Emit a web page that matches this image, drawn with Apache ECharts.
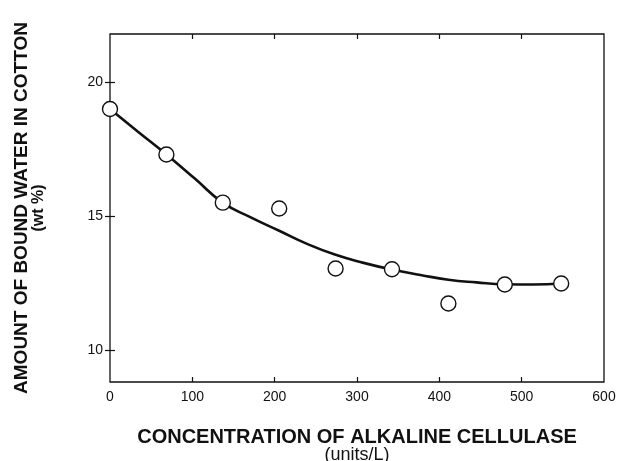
<!DOCTYPE html>
<html>
<head>
<meta charset="UTF-8" />
<title>Bound water vs alkaline cellulase</title>
<script src="https://cdn.jsdelivr.net/npm/echarts@6/dist/echarts.min.js"></script>
<style>
  body { margin: 0; background: #fff; }
  #chart { width: 618px; height: 461px; }
</style>
</head>
<body>
<div id="chart"></div>
<script>
// measured points (concentration units/L, bound water wt %)
const concentration = [0, 68.5, 137, 205.5, 274, 342.5, 411, 479.5, 548];
const boundWater = [19.0, 17.3, 15.5, 15.28, 13.04, 13.01, 11.73, 12.44, 12.48];

// fitted curve
const curveX = [0, 34, 68.5, 103, 137, 171, 205.5, 240, 274, 308, 342.5, 377, 411, 445, 479.5, 514, 548];
const curveY = [19.0, 18.15, 17.3, 16.4, 15.5, 14.95, 14.45, 13.95, 13.55, 13.25, 13.0, 12.8, 12.62, 12.52, 12.45, 12.44, 12.48];

const xTicks = [100, 200, 300, 400, 500];
const yTicks = [10, 15, 20];

const font = '"Liberation Sans", Arial, sans-serif';
const ink = '#111';

const chart = echarts.init(document.getElementById('chart'));

const tickStyle = { show: true, inside: true, length: 5, lineStyle: { color: ink, width: 1.2 } };

chart.setOption({
    animation: false,
    grid: {
        left: 110, top: 34, right: 14, bottom: 79,
        outerBoundsMode: 'none',
        containLabel: false,
        show: true, borderColor: ink, borderWidth: 1.3
    },
    xAxis: [{
        type: 'value', min: 0, max: 600, interval: 100,
        name: '{a|CONCENTRATION OF ALKALINE CELLULASE}\n{b|(units/L)}',
        nameLocation: 'middle', nameGap: 45,
        nameTextStyle: {
            color: ink,
            rich: {
                a: { fontFamily: font, fontSize: 20, fontWeight: 'bold', color: ink, lineHeight: 20 },
                b: { fontFamily: font, fontSize: 18, color: ink, lineHeight: 17 }
            }
        },
        axisLine: { show: false },
        axisTick: Object.assign({ customValues: xTicks }, tickStyle),
        axisLabel: { fontFamily: font, fontSize: 14, color: ink, margin: 8 },
        splitLine: { show: false }
    }, {
        type: 'value', position: 'top', min: 0, max: 600, interval: 100,
        axisLine: { show: false },
        axisTick: Object.assign({ customValues: xTicks }, tickStyle),
        axisLabel: { show: false },
        splitLine: { show: false }
    }],
    yAxis: [{
        type: 'value', min: 8.8, max: 21.8,
        name: '{a|AMOUNT OF BOUND WATER IN COTTON}\n{b|(wt %)}',
        nameLocation: 'middle', nameRotate: 90, nameGap: 63,
        nameTextStyle: {
            color: ink,
            rich: {
                a: { fontFamily: font, fontSize: 19, fontWeight: 'bold', color: ink, lineHeight: 17 },
                b: { fontFamily: font, fontSize: 16, fontWeight: 'bold', color: ink, lineHeight: 17 }
            }
        },
        axisLine: { show: false },
        axisTick: Object.assign({ customValues: yTicks }, tickStyle),
        axisLabel: { customValues: yTicks, fontFamily: font, fontSize: 14, color: ink, margin: 7 },
        splitLine: { show: false }
    }, {
        type: 'value', position: 'right', min: 8.8, max: 21.8,
        axisLine: { show: false },
        axisTick: Object.assign({ customValues: yTicks }, tickStyle),
        axisLabel: { show: false },
        splitLine: { show: false }
    }],
    series: [{
        type: 'line',
        data: curveX.map((x, i) => [x, curveY[i]]),
        smooth: 0.5,
        showSymbol: false,
        lineStyle: { color: ink, width: 2.6 },
        silent: true
    }, {
        type: 'scatter',
        data: concentration.map((x, i) => [x, boundWater[i]]),
        symbol: 'circle',
        symbolSize: 15,
        itemStyle: { color: '#fff', opacity: 1, borderColor: ink, borderWidth: 1.4 },
        z: 3
    }]
});
</script>
</body>
</html>
